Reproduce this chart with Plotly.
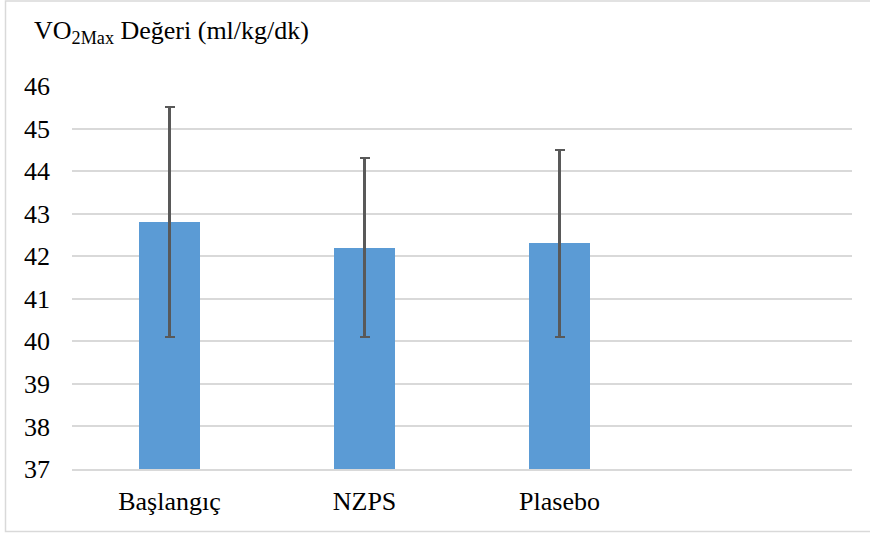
import plotly.graph_objects as go

categories = ["Başlangıç", "NZPS", "Plasebo"]
all_slots = ["Başlangıç", "NZPS", "Plasebo", " "]
means = [42.8, 42.2, 42.3]
errors = [2.7, 2.1, 2.2]
y_ticks = [37, 38, 39, 40, 41, 42, 43, 44, 45, 46]

W, H = 870, 533
L, R, T, B = 72, 18, 86, 64
pw, ph = W - L - R, H - T - B

def px(x):
    return (x - L) / pw

def py(y):
    return (H - B - y) / ph

FONT = "Liberation Serif"
FS = 26

fig = go.Figure(go.Bar(
    x=categories, y=means,
    marker=dict(color="#5B9BD5", line=dict(width=0)),
    width=0.315,
    error_y=dict(type="data", array=errors, visible=True,
                 color="#595959", thickness=2.2, width=5),
))

fig.update_layout(
    width=W, height=H,
    margin=dict(l=L, r=R, t=T, b=B),
    paper_bgcolor="white", plot_bgcolor="white",
    font=dict(family=FONT, size=FS, color="#000000"),
    showlegend=False,
    bargap=0,
    xaxis=dict(categoryorder="array", categoryarray=all_slots,
               range=[-0.5, 3.5], showgrid=False, ticks="",
               showline=True, linecolor="#D9D9D9", linewidth=1.5,
               ticklabelstandoff=8,
               tickfont=dict(family=FONT, size=FS, color="#000000")),
    yaxis=dict(range=[37, 46], tickvals=y_ticks, showgrid=True,
               gridcolor="#D9D9D9", gridwidth=1.5, zeroline=False,
               showline=False, ticks="", ticklabelstandoff=21,
               tickfont=dict(family=FONT, size=FS, color="#000000")),
    shapes=[dict(type="rect", xref="paper", yref="paper",
                 x0=px(5.5), x1=px(878), y0=py(1), y1=py(531.5),
                 line=dict(color="#D9D9D9", width=1.5), fillcolor="rgba(0,0,0,0)",
                 layer="below")],
    annotations=[dict(text="VO<sub>2Max</sub> Değeri (ml/kg/dk)",
                      xref="paper", yref="paper", x=px(32), y=py(32),
                      xanchor="left", yanchor="middle", showarrow=False,
                      font=dict(family=FONT, size=FS, color="#000000"))],
)

fig.write_html("out.html", config={"displayModeBar": False},
               post_script="document.body.style.margin='0';document.body.style.overflow='hidden';")
